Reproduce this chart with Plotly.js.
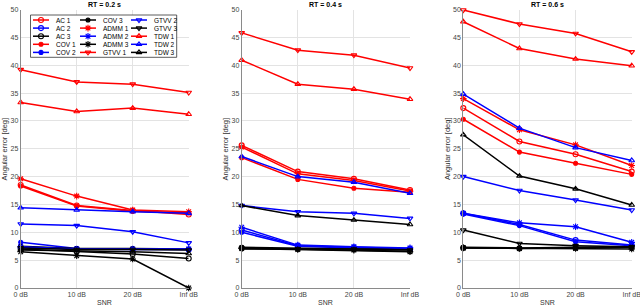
<!DOCTYPE html>
<html><head><meta charset="utf-8">
<script src="https://cdn.plot.ly/plotly-3.0.1.min.js"></script>
<style>html,body{margin:0;padding:0;background:#fff}</style>
</head><body><div id="chart" style="width:640px;height:307px"></div>
<script>
// ---- data ----
const snrLabels = ['0 dB', '10 dB', '20 dB', 'Inf dB'];
const panelTitles = ['RT = 0.2 s', 'RT = 0.4 s', 'RT = 0.6 s'];
const seriesNames = ['AC 1','AC 2','AC 3','COV 1','COV 2','COV 3','ADMM 1','ADMM 2','ADMM 3','GTVV 1','GTVV 2','GTVV 3','TDW 1','TDW 2','TDW 3'];
// each: [RT 0.2, RT 0.4, RT 0.6], values at 0, 10, 20, Inf dB
const AC1   = [[18.5,14.8,13.9,13.2],[25.6,20.9,19.6,17.6],[32.3,26.3,24.0,20.9]];
const AC2   = [[7.3,7.0,6.9,6.9],[10.4,7.6,7.3,7.1],[13.4,11.4,8.6,7.7]];
const AC3   = [[7.0,6.6,6.1,5.3],[7.2,7.0,6.9,6.6],[7.2,7.1,7.2,7.3]];
const COV1  = [[18.3,14.7,13.8,13.5],[23.4,19.5,17.9,17.2],[30.3,24.4,22.4,20.4]];
const COV2  = [[8.2,7.1,7.0,6.9],[10.0,7.5,7.2,7.0],[13.3,11.2,8.3,7.6]];
const COV3  = [[7.5,7.1,7.1,7.0],[7.3,7.1,7.0,6.9],[7.3,7.2,7.3,7.4]];
const ADMM1 = [[19.6,16.5,14.0,13.7],[25.3,20.5,19.3,17.4],[34.0,28.4,25.7,22.0]];
const ADMM2 = [[7.4,7.0,7.0,7.0],[10.9,7.7,7.4,7.2],[13.4,11.7,11.0,8.2]];
const ADMM3 = [[6.5,5.8,5.2,0.0],[7.1,6.9,6.8,6.5],[7.2,7.1,7.1,7.0]];
const GTVV1 = [[39.2,37.0,36.6,35.1],[45.8,42.7,41.8,39.5],[49.9,47.4,45.7,42.4]];
const GTVV2 = [[11.5,11.2,10.1,8.1],[14.8,13.7,13.4,12.5],[20.0,17.5,15.8,14.0]];
const GTVV3 = [[7.2,6.9,6.9,6.8],[7.0,7.0,7.0,6.8],[10.4,8.0,7.6,7.4]];
const TDW1  = [[33.3,31.7,32.3,31.2],[40.9,36.6,35.7,33.9],[47.8,43.0,41.1,39.9]];
const TDW2  = [[14.4,14.0,13.7,13.4],[23.6,20.0,19.0,17.0],[34.8,28.7,25.2,22.9]];
const TDW3  = [[6.8,6.7,6.5,6.2],[14.8,13.0,12.2,11.4],[27.5,20.1,17.8,14.9]];

const seriesData = [AC1,AC2,AC3,COV1,COV2,COV3,ADMM1,ADMM2,ADMM3,GTVV1,GTVV2,GTVV3,TDW1,TDW2,TDW3];

// ---- styles ----
const colors = ['#ff0000', '#0000ff', '#000000'];
const symbols = ['circle-open', 'circle', 'asterisk-open', 'triangle-down-open', 'triangle-up-open'];
const sizes = [5, 4, 5.5, 5, 5];
function styleOf(i) {
  const m = Math.floor(i / 3), c = i % 3;
  return {color: colors[c], symbol: symbols[m], size: sizes[m]};
}

const W = 640, H = 307;
const xDomains = [[20.7/W, 188.7/W], [241.7/W, 410/W], [463.3/W, 631.7/W]];
const yDomain = [1 - 288/H, 1 - 9.5/H];
const FONT = 'Liberation Sans, Arial, sans-serif';

const traces = [];
for (let p = 0; p < 3; p++) {
  const sfx = p === 0 ? '' : String(p + 1);
  seriesData.forEach((s, i) => {
    const st = styleOf(i);
    traces.push({
      type: 'scatter', mode: 'lines+markers',
      x: snrLabels, y: s[p], name: seriesNames[i],
      xaxis: 'x' + sfx, yaxis: 'y' + sfx, showlegend: false, cliponaxis: false,
      line: {color: st.color, width: 1.5},
      marker: {symbol: st.symbol, size: st.size, color: st.color, line: {color: st.color, width: 1.1}}
    });
  });
}

// legend drawn in an overlay pixel-space axis
const legBox = {x0: 30.5, x1: 176.7, y0: 15, y1: 57.3};
const legColX = [33, 80, 131], legRow0 = 20, legRowH = 8.1, legLineLen = 16;
const annotations = [];
seriesNames.forEach((nm, i) => {
  const col = Math.floor(i / 5), row = i % 5;
  const st = styleOf(i);
  const xs = legColX[col], yy = legRow0 + row * legRowH;
  traces.push({
    type: 'scatter', mode: 'lines', x: [xs, xs + legLineLen], y: [yy, yy],
    xaxis: 'x4', yaxis: 'y4', showlegend: false, hoverinfo: 'skip',
    line: {color: st.color, width: 1.5}
  });
  traces.push({
    type: 'scatter', mode: 'markers', x: [xs + legLineLen / 2], y: [yy],
    xaxis: 'x4', yaxis: 'y4', showlegend: false, hoverinfo: 'skip', cliponaxis: false,
    marker: {symbol: st.symbol, size: st.size, color: st.color, line: {color: st.color, width: 1.1}}
  });
  annotations.push({
    xref: 'x4', yref: 'y4', x: xs + legLineLen + 4.5, y: yy, text: nm, showarrow: false,
    xanchor: 'left', yanchor: 'middle', font: {size: 6.5, color: '#000', family: FONT}
  });
});

for (let p = 0; p < 3; p++) {
  const cx = (xDomains[p][0] + xDomains[p][1]) / 2;
  annotations.push({xref: 'paper', yref: 'paper', x: cx, y: 1 - 4.5/H, text: '<b>' + panelTitles[p] + '</b>',
    showarrow: false, xanchor: 'center', yanchor: 'middle', font: {size: 7, color: '#000', family: FONT}});
  annotations.push({xref: 'paper', yref: 'paper', x: cx, y: 1 - 302.5/H, text: 'SNR',
    showarrow: false, xanchor: 'center', yanchor: 'middle', font: {size: 7, color: '#333', family: FONT}});
  annotations.push({xref: 'paper', yref: 'paper', x: xDomains[p][0] - 16/W, y: (yDomain[0] + yDomain[1]) / 2,
    text: 'Angular error [deg]', textangle: -90,
    showarrow: false, xanchor: 'center', yanchor: 'middle', font: {size: 7.5, color: '#333', family: FONT}});
}

const baseX = {
  type: 'category', range: [0, 3], showgrid: true, gridcolor: '#e3e3e3', gridwidth: 1,
  showline: true, linecolor: '#8a8a8a', linewidth: 1, zeroline: false, ticks: '',
  tickfont: {size: 7, color: '#444', family: FONT}, fixedrange: true
};
const baseY = {
  range: [0, 50], dtick: 5, showgrid: true, gridcolor: '#e3e3e3', gridwidth: 1,
  showline: true, linecolor: '#8a8a8a', linewidth: 1, zeroline: false, ticks: '',
  tickfont: {size: 7, color: '#444', family: FONT}, domain: yDomain, fixedrange: true
};

const layout = {
  width: W, height: H, margin: {l: 0, r: 0, t: 0, b: 0},
  paper_bgcolor: '#fff', plot_bgcolor: 'rgba(0,0,0,0)',
  font: {family: FONT, color: '#333'},
  showlegend: false,
  xaxis:  Object.assign({}, baseX, {domain: xDomains[0], anchor: 'y'}),
  yaxis:  Object.assign({}, baseY, {anchor: 'x'}),
  xaxis2: Object.assign({}, baseX, {domain: xDomains[1], anchor: 'y2'}),
  yaxis2: Object.assign({}, baseY, {anchor: 'x2'}),
  xaxis3: Object.assign({}, baseX, {domain: xDomains[2], anchor: 'y3'}),
  yaxis3: Object.assign({}, baseY, {anchor: 'x3'}),
  xaxis4: {domain: [0, 1], range: [0, W], visible: false, anchor: 'y4', fixedrange: true},
  yaxis4: {domain: [0, 1], range: [H, 0], visible: false, anchor: 'x4', fixedrange: true},
  shapes: [{type: 'rect', xref: 'x4', yref: 'y4', x0: legBox.x0, x1: legBox.x1, y0: legBox.y0, y1: legBox.y1,
    fillcolor: '#fff', line: {color: '#333', width: 0.8}, layer: 'below'}],
  annotations: annotations
};

Plotly.newPlot('chart', traces, layout, {displayModeBar: false, staticPlot: true});
</script>
</body></html>
